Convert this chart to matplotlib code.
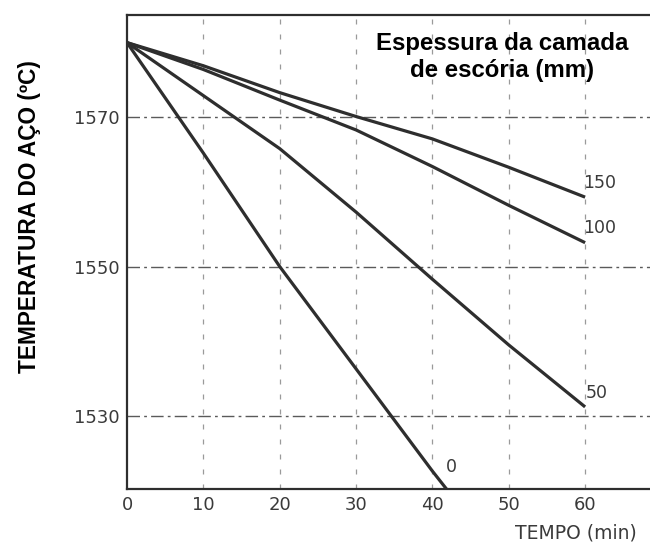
import matplotlib
matplotlib.use("Agg")
from matplotlib import pyplot as plt
from matplotlib import font_manager

# slag thickness (mm) -> steel temperature curves
time = [0, 10, 20, 30, 40, 50, 60]
temp_150 = [1580, 1576.9, 1573.3, 1570.1, 1567.1, 1563.3, 1559.3]
temp_100 = [1580, 1576.4, 1572.3, 1568.3, 1563.4, 1558.2, 1553.2]
temp_50 = [1580, 1572.9, 1565.8, 1557.3, 1548.3, 1539.5, 1531.2]
time_0 = [0, 10, 20, 30, 40, 42]
temp_0 = [1580, 1565.2, 1550, 1536.3, 1522.6, 1520]

labels = ["150", "100", "50", "0"]
label_x = [59.8, 59.8, 60.1, 41.7]
label_y = [1561.2, 1555.1, 1533.1, 1523.2]

xticks = [0, 10, 20, 30, 40, 50, 60]
yticks = [1530, 1550, 1570]

LINE = "#2e2e2e"
INK = "#3a3a3a"

# regular-width Liberation Sans Bold (skip the Narrow variant)
bold_file = None
for f in font_manager.fontManager.ttflist:
    if f.name == "Liberation Sans" and f.weight in (700, "bold") and f.style == "normal" \
            and "Narrow" not in f.fname:
        bold_file = f.fname
        break
if bold_file:
    title_font = font_manager.FontProperties(fname=bold_file)
else:
    title_font = font_manager.FontProperties(family="DejaVu Sans", weight="bold")

fig = plt.figure(figsize=(6.5, 5.43), dpi=100)
ax = fig.add_axes([0.1954, 0.0994, 0.8046, 0.873])

# grid: dash-dot horizontals, broken verticals
for y in yticks:
    ax.axhline(y, color="#5a5a5a", lw=1.0, ls=(0, (9, 3, 2, 3)), zorder=1)
for x in xticks[1:]:
    ax.axvline(x, color="#9a9a9a", lw=0.9, ls=(0, (4, 8)), zorder=1)

for t, v in [(time, temp_150), (time, temp_100), (time, temp_50), (time_0, temp_0)]:
    ax.plot(t, v, color=LINE, lw=2.3, solid_capstyle="butt", zorder=3)

for s, x, y in zip(labels, label_x, label_y):
    ax.text(x, y, s, fontsize=12.5, color=INK, ha="left", va="center")

ax.set_xlim(0, 68.5)
ax.set_ylim(1520.2, 1583.7)
ax.set_xticks(xticks)
ax.set_yticks(yticks)
ax.tick_params(length=0, labelsize=13, labelcolor=INK, pad=5)

for side in ["left", "bottom", "top"]:
    ax.spines[side].set_color(LINE)
    ax.spines[side].set_linewidth(1.6)
ax.spines["right"].set_visible(False)

title_font.set_size(17.3)
ax.text(0.718, 0.912, "Espessura da camada\nde escória (mm)", transform=ax.transAxes,
        ha="center", va="center", fontproperties=title_font, linespacing=1.2)

ylab_font = title_font.copy()
ylab_font.set_size(16.3)
fig.text(30 / 650, 1 - 217 / 543, "TEMPERATURA DO AÇO (ºC)", rotation=90,
         ha="center", va="center", fontproperties=ylab_font)
fig.text(637 / 650, 1 - 533 / 543, "TEMPO (min)", ha="right", va="center",
         fontsize=13.5, color=INK)

fig.savefig("out.png", dpi=100)
